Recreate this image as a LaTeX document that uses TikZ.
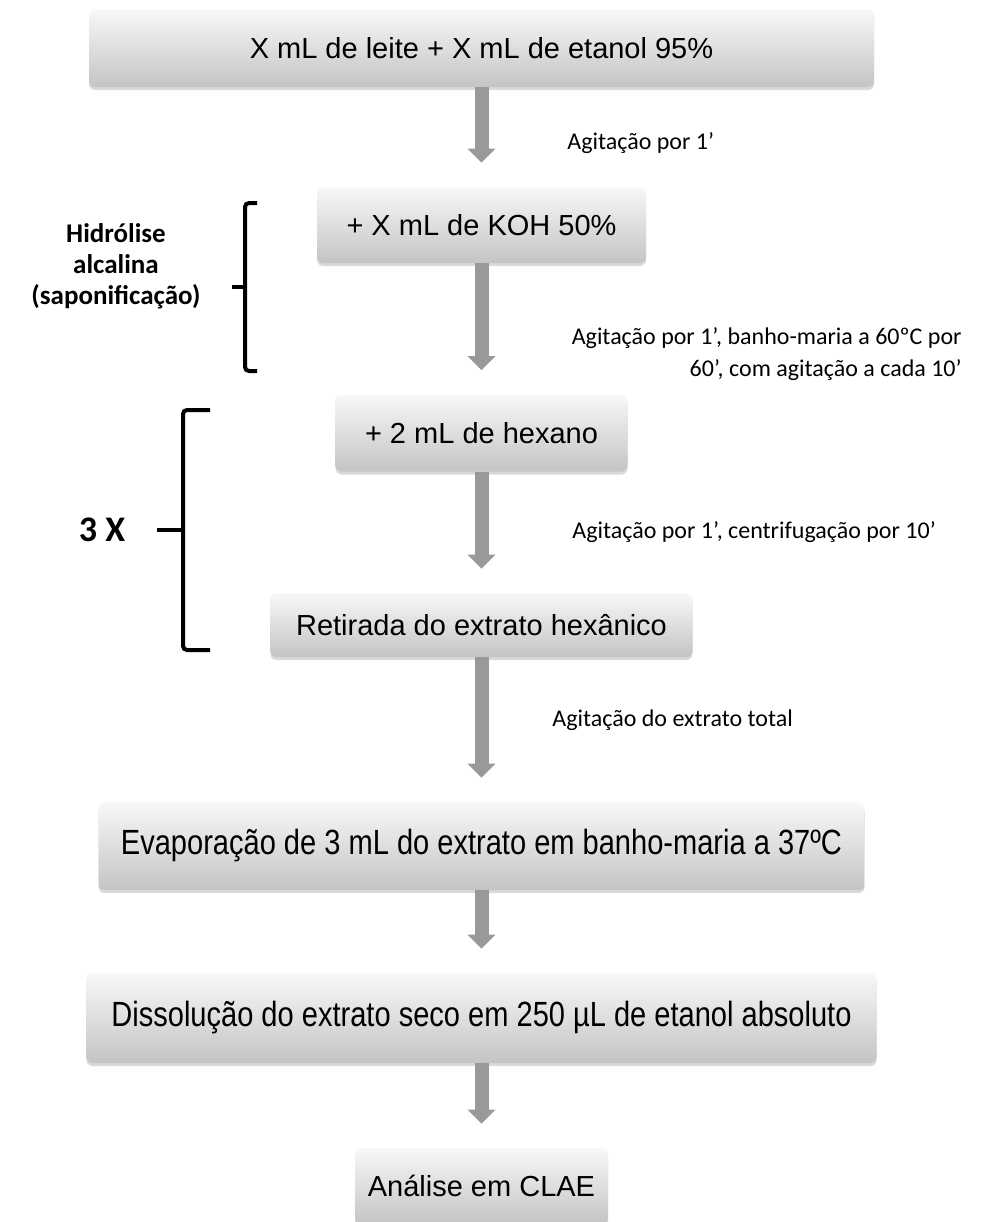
\documentclass[tikz,border=0pt]{standalone}
\usepackage{fontspec}
\setmainfont{Liberation Sans}
\newfontfamily\calibrifont{Carlito}
\newfontfamily\narrowfont{Liberation Sans}[FakeStretch=0.83]
\usetikzlibrary{arrows.meta,shadows}
\definecolor{boxtop}{HTML}{F8F8F8}
\definecolor{boxbottom}{HTML}{C4C4C4}
\definecolor{arrowgray}{HTML}{999999}

\tikzset{
  stepbox/.style={rounded corners=3pt, top color=boxtop, bottom color=boxbottom, draw=none,
    drop shadow={shadow xshift=0pt, shadow yshift=-1.5pt, opacity=0.3},
    font=\fontsize{14.5}{17}\selectfont, inner sep=0pt},
  widebox/.style={stepbox, font=\narrowfont\fontsize{17.5}{20}\selectfont},
  flow/.style={arrowgray, line width=7pt, -{Triangle[width=13.5pt,length=7pt]}, shorten >=12pt},
  note/.style={font=\calibrifont\fontsize{12}{16}\selectfont, inner sep=0pt},
  side/.style={font=\calibrifont\bfseries\fontsize{13.5}{15.5}\selectfont, align=center, inner sep=0pt},
  brace/.style={line width=2pt, rounded corners=2pt},
}

\begin{document}
\begin{tikzpicture}[x=0.5pt,y=-0.5pt]
  \useasboundingbox (0,0) rectangle (997,1222);

  % steps
  \node[stepbox, minimum width=392.5pt, minimum height=39pt] (mix) at (481.5,48) {X mL de leite + X mL de etanol 95\%};
  \node[stepbox, minimum width=164.5pt, minimum height=38pt] (koh) at (481.5,225) {+ X mL de KOH 50\%};
  \node[stepbox, minimum width=146pt, minimum height=38.5pt] (hexane) at (481.5,433) {+ 2 mL de hexano};
  \node[stepbox, minimum width=211pt, minimum height=32pt] (extract) at (481.5,625) {Retirada do extrato hexânico};
  \node[widebox, minimum width=383pt, minimum height=44pt] (evap) at (481.5,846) {Evaporação de 3 mL do extrato em banho-maria a 37ºC};
  \node[widebox, minimum width=395pt, minimum height=45pt] (dissolve) at (481.5,1018) {Dissolução do extrato seco em 250 µL de etanol absoluto};
  \node[stepbox, minimum width=126.5pt, minimum height=38pt] (clae) at (481.5,1186) {Análise em CLAE};

  % arrows
  \draw[flow] (mix) -- (koh);
  \draw[flow] (koh) -- (hexane);
  \draw[flow] (hexane) -- (extract);
  \draw[flow] (extract) -- (evap);
  \draw[flow] (evap) -- (dissolve);
  \draw[flow] (dissolve) -- (clae);

  % conditions
  \node[note, anchor=west] (stir1) at (567,143) {Agitação por 1’};
  \node[note, anchor=east, align=right] (stir2) at (962,354) {Agitação por 1’, banho-maria a 60ºC por\\60’, com agitação a cada 10’};
  \node[note, anchor=west] (stir3) at (572,532) {Agitação por 1’, centrifugação por 10’};
  \node[note, anchor=west] (stir4) at (552,720) {Agitação do extrato total};

  % brackets
  \draw[brace] (257,203) -- (245,203) -- (245,371) -- (257,371);
  \draw[brace] (245,287) -- (232,287);
  \node[side] (hydro) at (116,266) {Hidrólise\\alcalina\\(saponificação)};

  \draw[brace] (210,410) -- (183,410) -- (183,650) -- (210,650);
  \draw[brace] (183,530) -- (157,530);
  \node[side, font=\calibrifont\bfseries\fontsize{18}{20}\selectfont] (times) at (102,530) {3 X};
\end{tikzpicture}
\end{document}
